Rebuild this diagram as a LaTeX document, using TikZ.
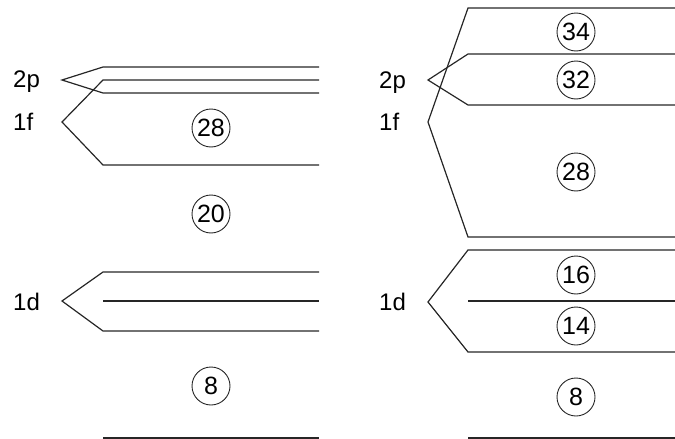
\documentclass[tikz,border=0pt]{standalone}
\usepackage{fontspec}
\setmainfont{Liberation Sans}
\begin{document}
\begin{tikzpicture}[x=1pt,y=-1pt,
  lvl/.style={draw=black!85, line width=1.2pt, line join=miter},
  num/.style={circle, draw=black!85, line width=0.9pt, minimum size=38pt, inner sep=0pt, font=\fontsize{25}{25}\selectfont},
  lab/.style={anchor=base west, inner sep=0pt, font=\fontsize{24}{24}\selectfont}]
\useasboundingbox (0,0) rectangle (675,439);
% left panel
\draw[lvl] (319,67) -- (103,67) -- (62,80) -- (103,93) -- (319,93);
\draw[lvl] (319,80) -- (103,80) -- (62,122) -- (103,165) -- (319,165);
\draw[lvl] (319,272) -- (103,272) -- (62,301) -- (103,331) -- (319,331);
\draw[lvl] (103,301) -- (319,301);
\draw[lvl] (103,438) -- (319,438);
\node[lab] (l2p) at (13,87) {2p};
\node[lab] (l1f) at (13,130) {1f};
\node[lab] (l1d) at (13,310) {1d};
\node[num] (n28a) at (211,128) {28};
\node[num] (n20) at (211,214) {20};
\node[num] (n8a) at (211,386) {8};
% right panel
\draw[lvl] (676,8) -- (468,8) -- (428,122) -- (468,237) -- (676,237);
\draw[lvl] (676,54) -- (468,54) -- (428,80) -- (468,105) -- (676,105);
\draw[lvl] (676,250) -- (468,250) -- (428,302) -- (468,352) -- (676,352);
\draw[lvl] (468,301) -- (676,301);
\draw[lvl] (468,438) -- (676,438);
\node[lab] (r2p) at (379,88) {2p};
\node[lab] (r1f) at (379,130) {1f};
\node[lab] (r1d) at (379,310) {1d};
\node[num] (n34) at (576,32) {34};
\node[num] (n32) at (576,80) {32};
\node[num] (n28b) at (576,172) {28};
\node[num] (n16) at (576,275) {16};
\node[num] (n14) at (576,326) {14};
\node[num] (n8b) at (576,397) {8};
\end{tikzpicture}
\end{document}
